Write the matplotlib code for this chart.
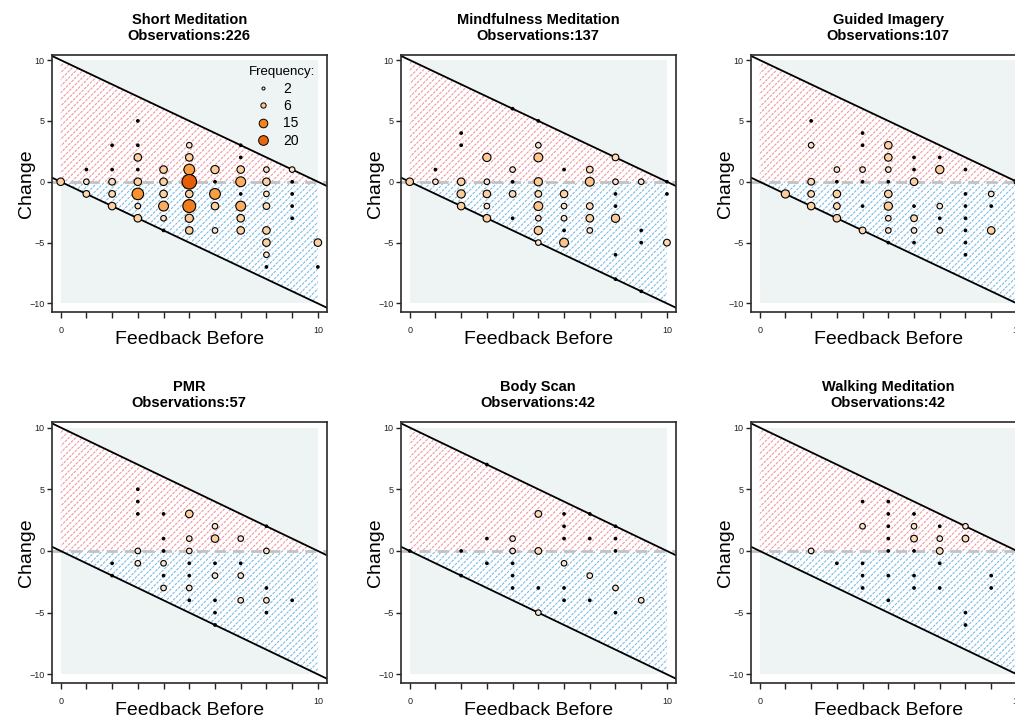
import numpy as np
import matplotlib
matplotlib.use('Agg')
import matplotlib.pyplot as plt
from matplotlib.colors import LinearSegmentedColormap, Normalize
from matplotlib.lines import Line2D

plt.rcParams['font.family'] = ['Liberation Sans', 'DejaVu Sans']
plt.rcParams['hatch.linewidth'] = 0.8

titles = ['Short Meditation', 'Mindfulness Meditation', 'Guided Imagery',
          'PMR', 'Body Scan', 'Walking Meditation']
observations = [226, 137, 107, 57, 42, 42]

# feedback before (x), change (y), frequency (n)
short_x = [0, 1, 1, 1, 2, 2, 2, 2, 2, 3, 3, 3, 3, 3, 3, 3, 3,
           4, 4, 4, 4, 4, 4, 5, 5, 5, 5, 5, 5, 5, 5, 6, 6, 6, 6, 6,
           7, 7, 7, 7, 7, 7, 7, 7, 8, 8, 8, 8, 8, 8, 8, 8, 9, 9, 9, 9, 9, 10, 10]
short_y = [0, 1, 0, -1, 3, 1, 0, -1, -2, 5, 3, 2, 1, 0, -1, -2, -3,
           1, 0, -1, -2, -3, -4, 3, 2, 1, 0, -1, -2, -3, -4, 1, 0, -1, -2, -4,
           3, 2, 1, 0, -1, -2, -3, -4, 1, 0, -1, -2, -4, -5, -6, -7, 1, 0, -1, -2, -3, -5, -7]
short_n = [4, 1, 2, 3, 1, 1, 3, 3, 4, 1, 1, 4, 1, 4, 12, 2, 4,
           4, 4, 4, 8, 2, 1, 2, 4, 10, 22, 4, 16, 5, 4, 5, 1, 10, 4, 2,
           1, 1, 4, 8, 1, 8, 4, 4, 2, 4, 2, 3, 4, 4, 2, 1, 2, 1, 1, 1, 1, 4, 1]

mind_x = [0, 1, 1, 2, 2, 2, 2, 2, 3, 3, 3, 3, 3, 4, 4, 4, 4, 4,
          5, 5, 5, 5, 5, 5, 5, 5, 5, 6, 6, 6, 6, 6, 6, 7, 7, 7, 7, 7,
          8, 8, 8, 8, 8, 8, 8, 9, 9, 9, 9, 10, 10, 10]
mind_y = [0, 1, 0, 4, 3, 0, -1, -2, 2, 0, -1, -2, -3, 6, 1, 0, -1, -3,
          5, 3, 2, 0, -1, -2, -3, -4, -5, 1, -1, -2, -3, -4, -5, 1, 0, -2, -3, -4,
          2, 0, -1, -2, -3, -6, -8, 0, -4, -5, -9, 0, -1, -5]
mind_n = [4, 1, 2, 1, 1, 4, 5, 4, 5, 2, 4, 2, 4, 1, 2, 1, 3, 1,
          1, 2, 6, 5, 3, 6, 2, 5, 2, 1, 4, 2, 2, 1, 6, 3, 6, 3, 4, 2,
          3, 2, 1, 1, 5, 1, 1, 2, 1, 1, 1, 1, 1, 3]

guided_x = [1, 2, 2, 2, 2, 2, 3, 3, 3, 3, 3, 4, 4, 4, 4, 4, 4,
            5, 5, 5, 5, 5, 5, 5, 5, 5, 6, 6, 6, 6, 6, 6, 6, 7, 7, 7, 7, 7,
            8, 8, 8, 8, 8, 8, 8, 9, 9, 9, 10, 10]
guided_y = [-1, 5, 3, 0, -1, -2, 1, 0, -1, -2, -3, 4, 3, 1, 0, -2, -4,
            3, 2, 1, 0, -1, -2, -3, -4, -5, 2, 1, 0, -2, -3, -4, -5, 2, 1, -2, -3, -4,
            1, -1, -2, -3, -4, -5, -6, -1, -2, -4, 0, -5]
guided_n = [5, 1, 2, 3, 3, 4, 2, 1, 4, 3, 4, 1, 1, 2, 1, 1, 3,
            4, 4, 2, 1, 4, 5, 2, 2, 1, 1, 1, 4, 1, 3, 2, 1, 1, 5, 2, 1, 2,
            1, 1, 1, 1, 1, 1, 1, 2, 1, 4, 2, 1]

pmr_x = [2, 2, 3, 3, 3, 3, 3, 4, 4, 4, 4, 4, 4, 5, 5, 5, 5, 5, 5, 5,
         6, 6, 6, 6, 6, 6, 6, 7, 7, 7, 7, 8, 8, 8, 8, 8, 9]
pmr_y = [-1, -2, 5, 4, 3, 0, -1, 3, 1, 0, -1, -2, -3, 3, 1, 0, -1, -2, -3, -4,
         2, 1, -1, -2, -4, -5, -6, 1, -1, -2, -4, 2, 0, -3, -4, -5, -4]
pmr_n = [1, 1, 1, 1, 1, 2, 2, 1, 1, 1, 2, 1, 2, 4, 2, 2, 1, 1, 2, 1,
         2, 4, 1, 2, 1, 1, 1, 2, 1, 2, 2, 1, 2, 1, 2, 1, 1]

body_x = [0, 2, 2, 3, 3, 3, 4, 4, 4, 4, 4, 5, 5, 5, 5,
          6, 6, 6, 6, 6, 6, 7, 7, 7, 7, 8, 8, 8, 8, 8, 9]
body_y = [0, 0, -2, 7, 1, -1, 1, 0, -1, -2, -3, 3, 0, -3, -5,
          3, 2, 1, -1, -3, -4, 3, 1, -2, -4, 2, 1, 0, -3, -5, -4]
body_n = [1, 1, 1, 1, 1, 1, 2, 2, 1, 1, 1, 3, 3, 1, 2,
          1, 1, 1, 2, 1, 1, 1, 1, 2, 1, 1, 1, 1, 2, 1, 2]

walk_x = [2, 3, 4, 4, 4, 4, 4, 5, 5, 5, 5, 5, 5, 5, 6, 6, 6, 6, 6, 6,
          7, 7, 7, 7, 7, 8, 8, 8, 8, 9, 9]
walk_y = [0, -1, 4, 2, -1, -2, -3, 4, 3, 2, 1, 0, -2, -4, 3, 2, 1, 0, -2, -3,
          2, 1, 0, -1, -3, 2, 1, -5, -6, -2, -3]
walk_n = [2, 1, 1, 2, 1, 1, 1, 1, 1, 1, 1, 1, 1, 1, 1, 2, 3, 1, 1, 1,
          1, 2, 3, 1, 1, 2, 3, 1, 1, 1, 1]

panels = [(short_x, short_y, short_n), (mind_x, mind_y, mind_n), (guided_x, guided_y, guided_n),
          (pmr_x, pmr_y, pmr_n), (body_x, body_y, body_n), (walk_x, walk_y, walk_n)]

legend_values = [2, 6, 15, 20]

cmap = LinearSegmentedColormap.from_list(
    'freq', [(0.0, '#fdebd9'), (0.1, '#fdd3a6'), (0.2, '#fdc792'),
             (0.35, '#fca652'), (0.55, '#f98f25'), (1.0, '#e45e08')])
cmap.set_under('black')   # single observations are plain black dots
norm = Normalize(vmin=1.5, vmax=22)


def marker_area(n):
    n = np.asarray(n, dtype=float)
    d_px = 3.0 + 3.0 * (n - 1) ** 0.455
    d_pt = d_px * 0.72 - 0.3
    return d_pt ** 2


fig = plt.figure(figsize=(10.15, 7.2), dpi=100)
lefts = [0.0509, 0.3948, 0.7396]
rows = [(0.5667, 0.357), (0.0514, 0.362)]
xx = np.array([-0.5, 10.5])

for i, (px, py, pn) in enumerate(panels):
    bottom, height = rows[i // 3]
    ax = fig.add_axes([lefts[i % 3], bottom, 0.2709, height])

    # background and shaded regions
    ax.fill_between([0, 10], -10, 10, color='#eef3f3', lw=0, zorder=0)
    ax.fill_between([0, 10], [0, 0], [10, 0], facecolor='white', edgecolor='#f09aa2',
                    hatch='/////', lw=0, zorder=1)
    ax.fill_between([0, 10], [0, -10], [0, 0], facecolor='white', edgecolor='#7fbce4',
                    hatch='/////', lw=0, zorder=1)
    ax.fill_between([0, 10], [0, -10], [10, 0], facecolor='none', edgecolor='white',
                    hatch='\\\\\\\\\\\\', lw=0, zorder=1.5)

    ax.axhline(0, color='#c2c2c2', lw=2.0, ls=(0, (4, 2.5)), zorder=2)
    ax.plot(xx, 10 - xx, color='black', lw=1.3, zorder=2)
    ax.plot(xx, -xx, color='black', lw=1.3, zorder=2)

    ax.scatter(px, py, s=marker_area(pn), c=pn, cmap=cmap, norm=norm,
               edgecolors='black', linewidths=0.8, zorder=3)

    ax.set_xlim(-0.35, 10.34)
    ax.set_ylim(-10.7, 10.42)
    ax.set_xticks(range(11))
    ax.set_xticklabels(['0'] + [''] * 9 + ['10'])
    ax.set_yticks([-10, -5, 0, 5, 10])
    ax.tick_params(axis='x', length=4, width=1, pad=6, labelsize=6.5, colors='#222222')
    ax.tick_params(axis='y', length=3.5, width=1, pad=1.5, labelsize=6.5, colors='#222222')
    for sp in ax.spines.values():
        sp.set_color('#2a2a2a')
        sp.set_linewidth(1.2)

    ax.set_xlabel('Feedback Before', fontsize=14, labelpad=-3)
    ax.set_ylabel('Change', fontsize=14, labelpad=-4)
    ax.set_title(titles[i] + '\nObservations:' + str(observations[i]),
                 fontsize=10.5, fontweight='bold', pad=11, linespacing=1.15)

    if i == 0:
        legend_sizes = [2.2, 3.8, 6.2, 7.0]
        handles = [Line2D([], [], ls='', marker='o', markersize=ms,
                          markerfacecolor=cmap(norm(v)), markeredgecolor='black',
                          markeredgewidth=0.7)
                   for v, ms in zip(legend_values, legend_sizes)]
        leg = ax.legend(handles, [str(v) for v in legend_values], title='Frequency:',
                        loc='upper right', frameon=False, fontsize=10,
                        title_fontsize=9.5, labelspacing=0.25, handletextpad=0.45,
                        borderaxespad=0.4, handlelength=2.0)
        leg._legend_box.align = 'left'

fig.savefig('out.png', dpi=100)
